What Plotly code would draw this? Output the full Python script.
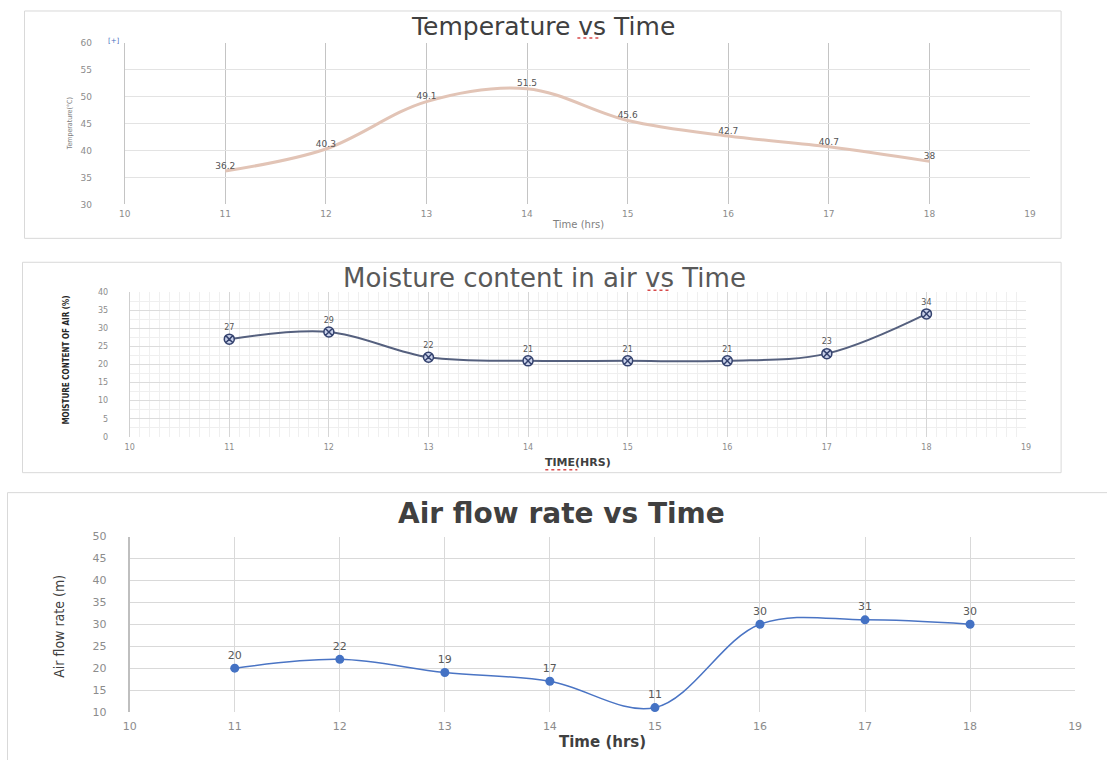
import plotly.graph_objects as go

# Figure canvas (slightly larger than the window; overflow is hidden)
W, H = 1120, 775
# photograph mapping observed: shot = S * page + (CX, CY)
S, CX, CY = 0.986, 7.5, 5.0

# ---------------- data ----------------
time_hrs = [11, 12, 13, 14, 15, 16, 17, 18]
temperature = [36.2, 40.3, 49.1, 51.5, 45.6, 42.7, 40.7, 38]
moisture = [27, 29, 22, 21, 21, 21, 23, 34]
airflow = [20, 22, 19, 17, 11, 30, 31, 30]

temp_ticks = [10, 11, 12, 13, 14, 15, 16, 17, 18, 19]


def fx(px):
    return ((px - CX) / S) / W


def fy(py):
    return 1 - ((py - CY) / S) / H


fig = go.Figure()

# Temperature
fig.add_trace(go.Scatter(
    x=time_hrs, y=temperature, mode="lines+text",
    text=[str(v) for v in temperature], textposition="top center",
    textfont=dict(family="DejaVu Sans", size=9, color="#555555"),
    line=dict(color="rgb(226,196,182)", width=3, shape="spline", smoothing=1),
    xaxis="x", yaxis="y", showlegend=False, cliponaxis=False,
))

# Moisture
fig.add_trace(go.Scatter(
    x=time_hrs, y=moisture, mode="lines+markers+text",
    text=[str(v) for v in moisture], textposition="top center",
    textfont=dict(family="DejaVu Sans", size=8, color="#555555"),
    line=dict(color="#55607e", width=2, shape="spline", smoothing=1),
    marker=dict(symbol="circle-x", size=10, color="#c9d1ea",
                line=dict(color="#34426e", width=1.5)),
    xaxis="x2", yaxis="y2", showlegend=False, cliponaxis=False,
))

# Air flow
fig.add_trace(go.Scatter(
    x=time_hrs, y=airflow, mode="lines+markers+text",
    text=[str(v) for v in airflow], textposition="top center",
    textfont=dict(family="DejaVu Sans", size=11, color="#595959"),
    line=dict(color="#4a74c4", width=1.5, shape="spline", smoothing=1),
    marker=dict(symbol="circle", size=9, color="#4472c4"),
    xaxis="x3", yaxis="y3", showlegend=False, cliponaxis=False,
))

tickfont_small = dict(family="DejaVu Sans", size=9, color="#8c8c8c")

layout = dict(
    width=W, height=H,
    margin=dict(l=0, r=0, t=0, b=0),
    paper_bgcolor="white", plot_bgcolor="rgba(0,0,0,0)",
    # ----- temperature axes
    xaxis=dict(domain=[fx(125), fx(1029)], range=[10, 19], anchor="y",
               tickvals=temp_ticks, showgrid=True, gridcolor="#c4c4c4", gridwidth=1,
               zeroline=False, showline=False, tickfont=tickfont_small,
               ticks="", ticklabelstandoff=3),
    yaxis=dict(domain=[fy(204), fy(42)], range=[30, 60], anchor="x", dtick=5,
               showgrid=True, gridcolor="#e3e3e3", zeroline=False,
               showline=True, linecolor="#c4c4c4", mirror=False,
               tickfont=tickfont_small, ticks="", ticklabelstandoff=30),
    # ----- moisture axes
    xaxis2=dict(domain=[fx(130), fx(1025)], range=[10, 19], anchor="y2",
                dtick=1, showgrid=True, gridcolor="#d6d6d6", zeroline=False,
                minor=dict(dtick=0.1, showgrid=True, gridcolor="#efefef"),
                tickfont=dict(family="DejaVu Sans", size=8, color="#8c8c8c"),
                ticks="", ticklabelstandoff=4, showline=False),
    yaxis2=dict(domain=[fy(437), fy(292)], range=[0, 40], anchor="x2", dtick=5,
                showgrid=True, gridcolor="#dcdcdc", zeroline=False,
                minor=dict(dtick=2.5, showgrid=True, gridcolor="#efefef"),
                showline=True, linecolor="#cfcfcf",
                tickfont=dict(family="DejaVu Sans", size=8, color="#8c8c8c"),
                ticks="", ticklabelstandoff=19),
    # ----- air flow axes
    xaxis3=dict(domain=[fx(130), fx(1074)], range=[10, 19], anchor="y3",
                dtick=1, showgrid=True, gridcolor="#d9d9d9", zeroline=False,
                showline=False,
                tickfont=dict(family="DejaVu Sans", size=11, color="#8c8c8c"),
                ticks="", ticklabelstandoff=6),
    yaxis3=dict(domain=[fy(713), fy(537)], range=[10, 50], anchor="x3", dtick=5,
                showgrid=True, gridcolor="#d9d9d9", zeroline=False,
                showline=True, linecolor="#bfbfbf", linewidth=2,
                tickfont=dict(family="DejaVu Sans", size=11, color="#8c8c8c"),
                ticks="", ticklabelstandoff=19),
)
fig.update_layout(**layout)

frame_col = "#d9d9d9"
squig_col = "#d84a4a"


def hline(x0, x1, y, color, dash="solid", width=1):
    return dict(type="line", xref="paper", yref="paper", x0=fx(x0), x1=fx(x1),
                y0=fy(y), y1=fy(y), line=dict(color=color, width=width, dash=dash))


shapes = [
    dict(type="rect", xref="paper", yref="paper", x0=fx(25), x1=fx(1060),
         y0=fy(238), y1=fy(10), line=dict(color=frame_col, width=1)),
    dict(type="rect", xref="paper", yref="paper", x0=fx(23), x1=fx(1060),
         y0=fy(473), y1=fy(262), line=dict(color=frame_col, width=1)),
    dict(type="rect", xref="paper", yref="paper", x0=fx(8), x1=fx(1130),
         y0=fy(790), y1=fy(493), line=dict(color=frame_col, width=1)),
    hline(577, 600, 37, squig_col, "dot", 1.5),
    hline(647, 669, 290, squig_col, "dot", 1.5),
    hline(545, 577, 470, squig_col, "dot", 1.5),
]
fig.update_layout(shapes=shapes)


def ann(text, x, y, size, color="#404040", family="DejaVu Sans", angle=0, bold=False):
    t = f"<b>{text}</b>" if bold else text
    return dict(text=t, x=fx(x), y=fy(y), xref="paper", yref="paper",
                showarrow=False, xanchor="center", yanchor="middle",
                textangle=angle, font=dict(family=family, size=size, color=color))


narrow = "Liberation Sans Narrow, DejaVu Sans Condensed, Arial Narrow, sans-serif"
annotations = [
    ann("Temperature vs Time", 543, 26, 25, "#404040"),
    ann("Time (hrs)", 578, 224, 10, "#7f7f7f"),
    ann("Temperature(°C)", 70, 123, 7, "#7f7f7f", family=narrow, angle=-90),
    ann("[+]", 114, 40, 7, "#4a6fc0"),
    ann("Moisture content in air vs Time", 544, 278, 26, "#595959"),
    ann("TIME(HRS)", 578, 463, 11, "#404040", bold=True),
    ann("MOISTURE CONTENT OF AIR (%)", 66, 360, 8, "#262626", family=narrow,
        angle=-90, bold=True),
    ann("Air flow rate vs Time", 561, 514, 28, "#404040", bold=True),
    ann("Time (hrs)", 602, 743, 15, "#404040", bold=True),
    ann("Air flow rate (m)", 60, 627, 14, "#404040", family=narrow, angle=-90),
]
fig.update_layout(annotations=annotations)

fig.write_html(
    "out.html",
    config={"displayModeBar": False, "responsive": False},
    post_script="document.body.style.margin='0';"
                "document.documentElement.style.overflow='hidden';"
                "document.body.style.overflow='hidden';",
)
